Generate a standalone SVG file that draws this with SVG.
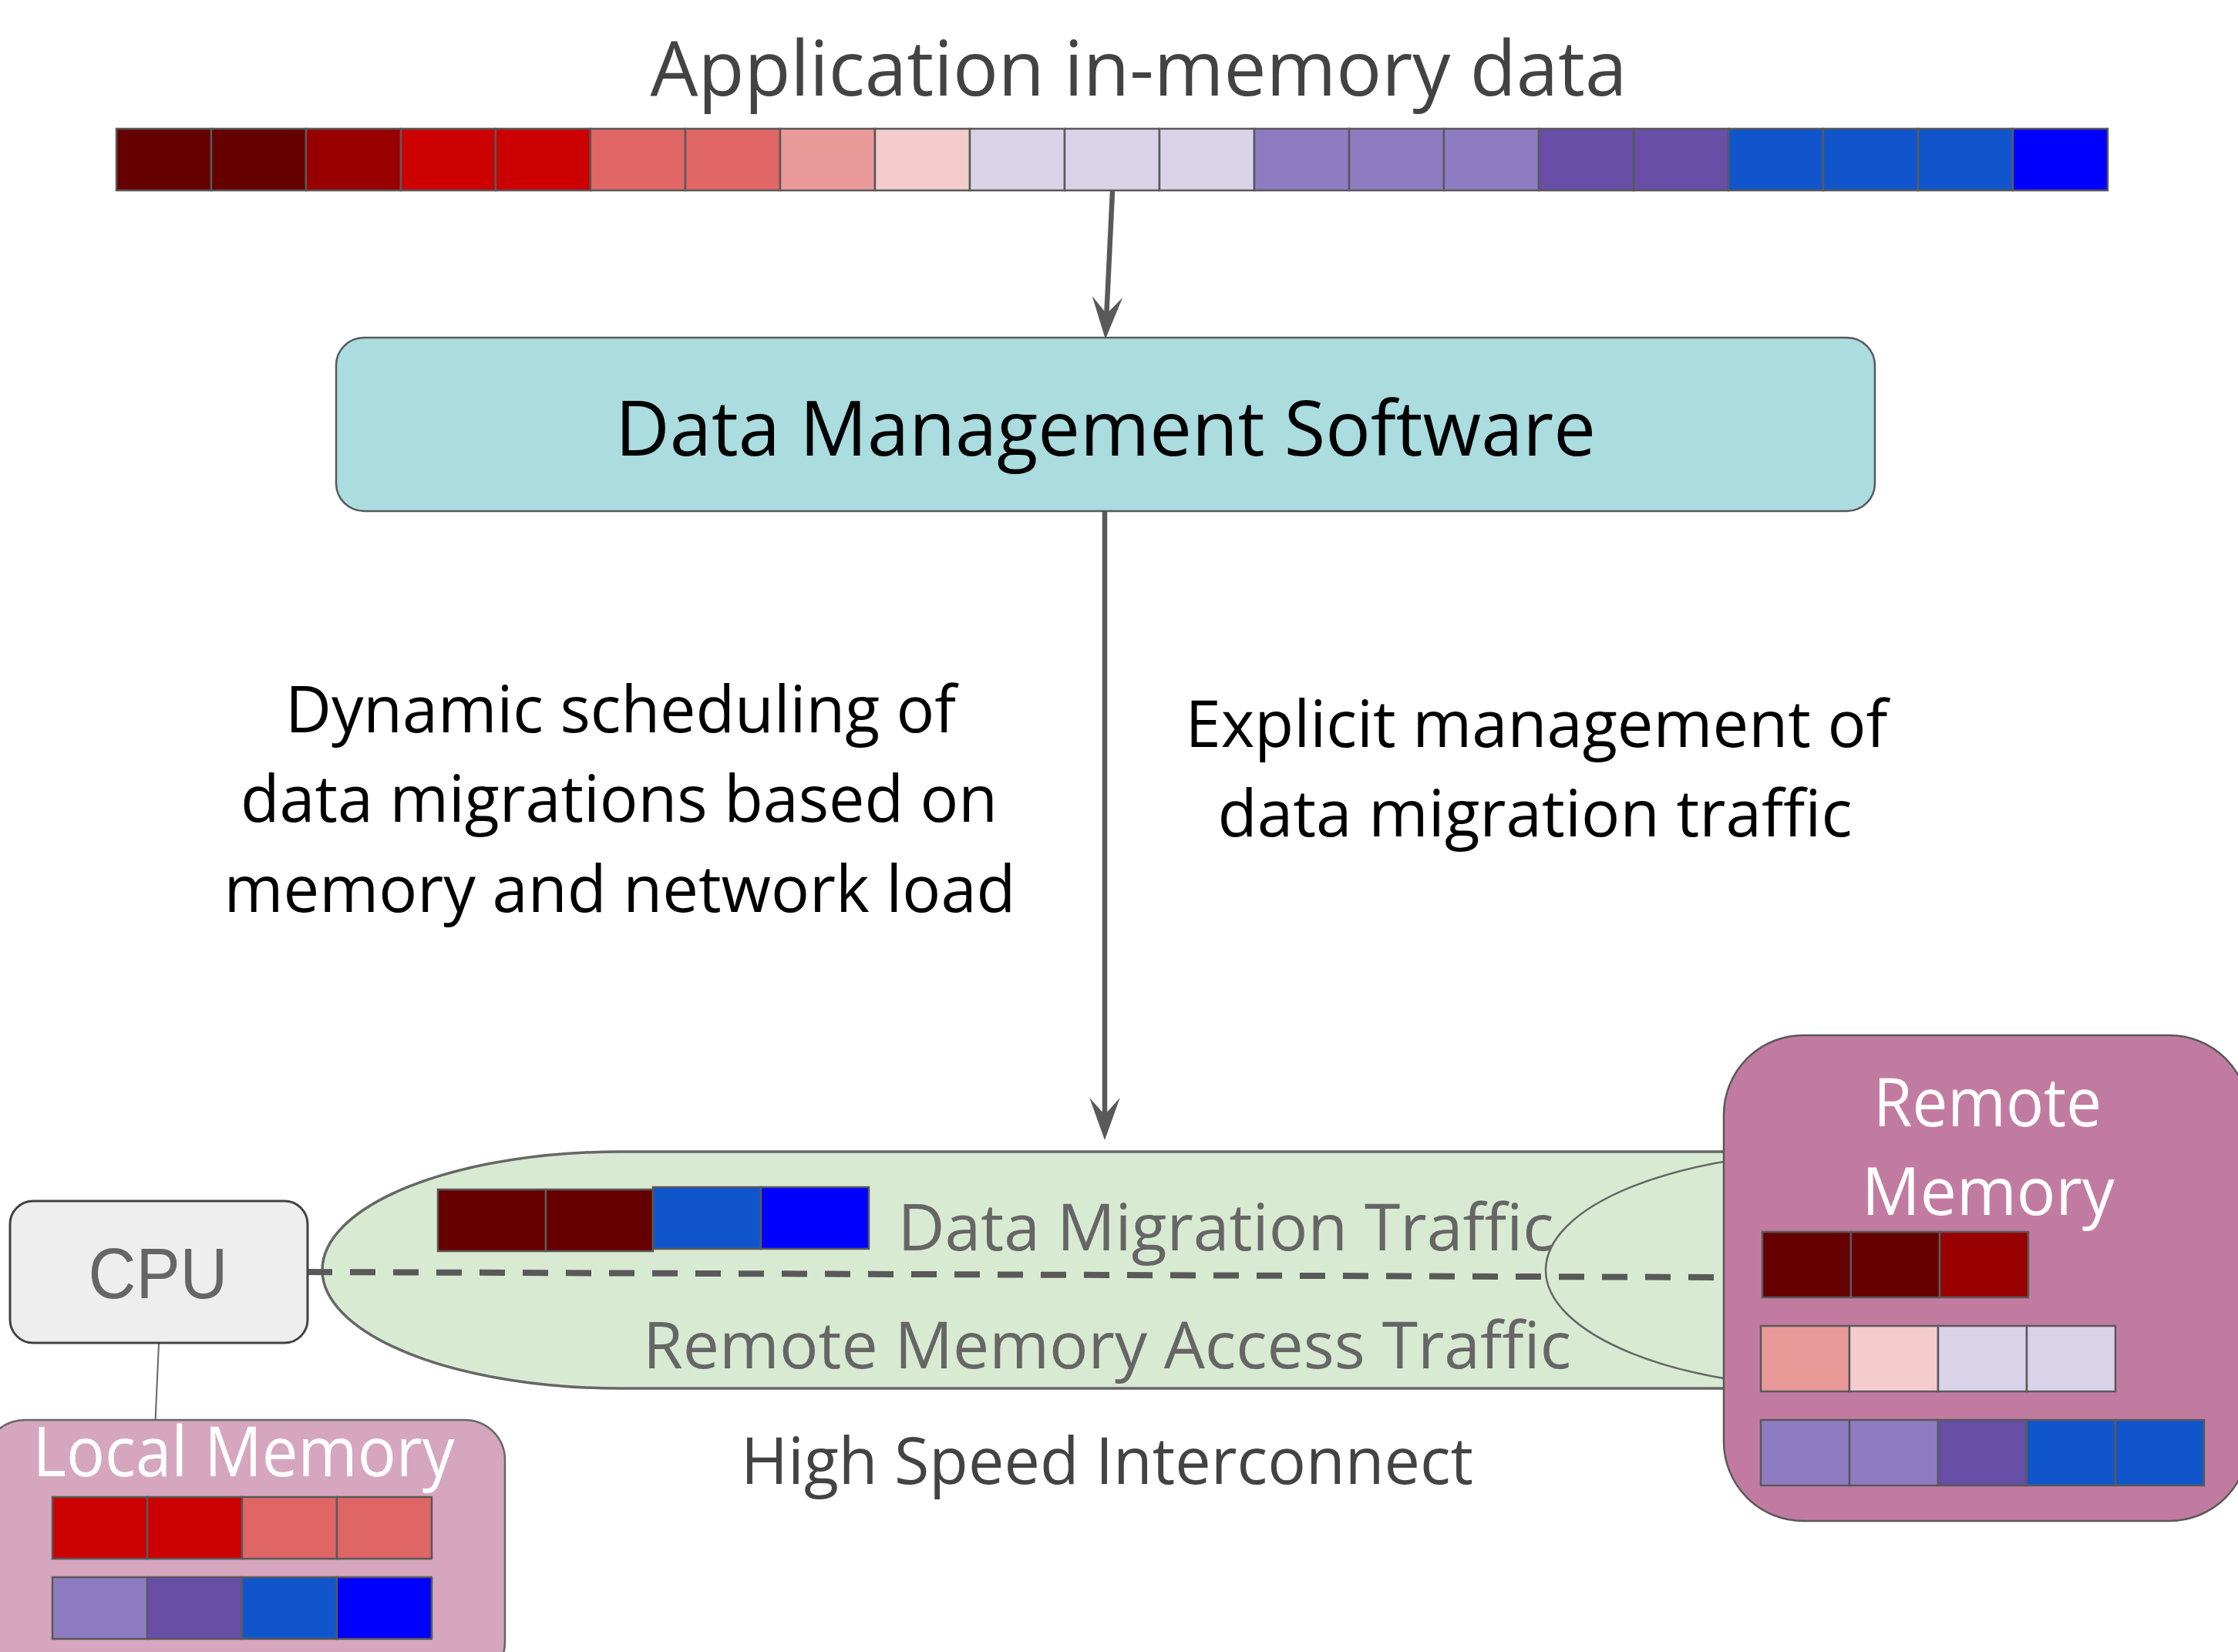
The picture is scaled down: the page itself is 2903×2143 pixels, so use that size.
<svg xmlns="http://www.w3.org/2000/svg" width="2903" height="2143" viewBox="0 0 2903 2143">
<style>
  text { font-family: "Open Sans", "Noto Sans", "Liberation Sans", sans-serif; text-anchor: middle; }
  .cell { stroke: #595959; stroke-width: 2.5; }
  .conn { stroke: #595959; stroke-width: 6.5; fill: none; }
  .dark { fill: #660000; } .d2 { fill: #990000; } .red { fill: #cc0000; } .sal { fill: #e06666; }
  .pink { fill: #ea9999; } .lp { fill: #f4cccc; } .lav { fill: #d9d2e9; } .pur { fill: #8e7cc3; }
  .dp { fill: #674ea7; } .blu { fill: #1155cc; } .bb { fill: #0000ff; }
</style>
<defs>
  <marker id="arr" markerUnits="userSpaceOnUse" markerWidth="60" markerHeight="44" viewBox="0 0 50 40" refX="20" refY="20" orient="auto">
    <path d="M50,20 L0,2 L20,20 L0,38 Z" fill="#595959"/>
  </marker>
</defs>
<rect width="2903" height="2143" fill="#ffffff"/>

<g id="app-data">
  <text x="1477" y="124" font-size="99" fill="#434343" textLength="1267" lengthAdjust="spacingAndGlyphs">Application in-memory data</text>
  <rect class="cell dark" x="151" y="167" width="123" height="80"/>
  <rect class="cell dark" x="274" y="167" width="123" height="80"/>
  <rect class="cell d2" x="397" y="167" width="123" height="80"/>
  <rect class="cell red" x="520" y="167" width="123" height="80"/>
  <rect class="cell red" x="643" y="167" width="123" height="80"/>
  <rect class="cell sal" x="766" y="167" width="123" height="80"/>
  <rect class="cell sal" x="889" y="167" width="123" height="80"/>
  <rect class="cell pink" x="1012" y="167" width="123" height="80"/>
  <rect class="cell lp" x="1135" y="167" width="123" height="80"/>
  <rect class="cell lav" x="1258" y="167" width="123" height="80"/>
  <rect class="cell lav" x="1381" y="167" width="123" height="80"/>
  <rect class="cell lav" x="1504" y="167" width="123" height="80"/>
  <rect class="cell pur" x="1627" y="167" width="123" height="80"/>
  <rect class="cell pur" x="1750" y="167" width="123" height="80"/>
  <rect class="cell pur" x="1873" y="167" width="123" height="80"/>
  <rect class="cell dp" x="1996" y="167" width="123" height="80"/>
  <rect class="cell dp" x="2119" y="167" width="123" height="80"/>
  <rect class="cell blu" x="2242" y="167" width="123" height="80"/>
  <rect class="cell blu" x="2365" y="167" width="123" height="80"/>
  <rect class="cell blu" x="2488" y="167" width="123" height="80"/>
  <rect class="cell bb" x="2611" y="167" width="123" height="80"/>
</g>

<g id="dms">
  <rect x="436" y="438" width="1996" height="225" rx="36" fill="#aadce0" stroke="#595959" stroke-width="2.5"/>
  <text x="1434" y="591" font-size="98" fill="#000000" textLength="1272" lengthAdjust="spacingAndGlyphs">Data Management Software</text>
</g>

<g id="label-left">
  <text x="805" y="950" font-size="85" fill="#000000" textLength="870" lengthAdjust="spacingAndGlyphs">Dynamic scheduling of</text>
  <text x="803" y="1066" font-size="85" fill="#000000" textLength="982" lengthAdjust="spacingAndGlyphs">data migrations based on</text>
  <text x="804" y="1183" font-size="85" fill="#000000" textLength="1027" lengthAdjust="spacingAndGlyphs">memory and network load</text>
</g>

<g id="label-right">
  <text x="1993" y="969" font-size="85" fill="#000000" textLength="911" lengthAdjust="spacingAndGlyphs">Explicit management of</text>
  <text x="1991" y="1085" font-size="85" fill="#000000" textLength="823" lengthAdjust="spacingAndGlyphs">data migration traffic</text>
</g>

<g id="interconnect">
  <path d="M804,1494 L2391,1494 A386,153.5 0 0 1 2391,1801 L804,1801 A386,153.5 0 0 1 804,1494 Z" fill="#d9ead3" stroke="#666666" stroke-width="3.5"/>
  <ellipse cx="2391" cy="1647.5" rx="386" ry="153.5" fill="#d9ead3" stroke="#666666" stroke-width="2.5"/>
  <rect class="cell dark" x="568" y="1543" width="140" height="80"/>
  <rect class="cell dark" x="708" y="1543" width="139" height="80"/>
  <rect class="cell blu" x="847" y="1540" width="140" height="80" stroke="#434343"/>
  <rect class="cell bb" x="987" y="1540" width="140" height="80"/>
  <text x="1590" y="1622" font-size="84" fill="#666666" textLength="851" lengthAdjust="spacingAndGlyphs">Data Migration Traffic</text>
  <text x="1436" y="1775" font-size="84" fill="#666666" textLength="1204" lengthAdjust="spacingAndGlyphs">Remote Memory Access Traffic</text>
  <text x="1436" y="1925" font-size="84" fill="#434343" textLength="950" lengthAdjust="spacingAndGlyphs">High Speed Interconnect</text>
</g>

<g id="connectors">
  <line class="conn" x1="1443" y1="248" x2="1435.4" y2="407" marker-end="url(#arr)"/>
  <line class="conn" x1="1433" y1="663" x2="1433" y2="1446" marker-end="url(#arr)"/>
  <line x1="398" y1="1650" x2="2236" y2="1657" stroke="#595959" stroke-width="8" stroke-dasharray="33 23"/>
  <line x1="206" y1="1743" x2="201" y2="1855" stroke="#666666" stroke-width="2"/>
</g>

<g id="cpu">
  <rect x="13" y="1558" width="386" height="184" rx="30" fill="#eeeeee" stroke="#434343" stroke-width="3"/>
  <text x="205" y="1684" font-size="92" fill="#666666" style="font-family:'Liberation Sans', Arial, sans-serif" textLength="181" lengthAdjust="spacingAndGlyphs">CPU</text>
</g>

<g id="local-memory">
  <rect x="-20" y="1842" width="675" height="340" rx="52" fill="#d5a6bd" stroke="#666666" stroke-width="2.5"/>
  <text x="316" y="1915" font-size="90" fill="#ffffff" textLength="547" lengthAdjust="spacingAndGlyphs">Local Memory</text>
  <rect class="cell red" x="68" y="1942" width="123" height="80"/>
  <rect class="cell red" x="191" y="1942" width="123" height="80"/>
  <rect class="cell sal" x="314" y="1942" width="123" height="80"/>
  <rect class="cell sal" x="437" y="1942" width="123" height="80"/>
  <rect class="cell pur" x="68" y="2046" width="123" height="80"/>
  <rect class="cell dp" x="191" y="2046" width="123" height="80"/>
  <rect class="cell blu" x="314" y="2046" width="123" height="80"/>
  <rect class="cell bb" x="437" y="2046" width="123" height="80"/>
</g>

<g id="remote-memory">
  <rect x="2236" y="1343" width="681" height="630" rx="103" fill="#c27ba0" stroke="#595959" stroke-width="2.5"/>
  <text x="2578" y="1461" font-size="87" fill="#ffffff" textLength="296" lengthAdjust="spacingAndGlyphs">Remote</text>
  <text x="2579" y="1576" font-size="86" fill="#ffffff" textLength="328" lengthAdjust="spacingAndGlyphs">Memory</text>
  <rect class="cell dark" x="2286" y="1598" width="115" height="85"/>
  <rect class="cell dark" x="2401" y="1598" width="115" height="85"/>
  <rect class="cell d2" x="2516" y="1598" width="115" height="85"/>
  <rect class="cell pink" x="2284" y="1720" width="115" height="85"/>
  <rect class="cell lp" x="2399" y="1720" width="115" height="85"/>
  <rect class="cell lav" x="2514" y="1720" width="115" height="85"/>
  <rect class="cell lav" x="2629" y="1720" width="115" height="85"/>
  <rect class="cell pur" x="2284" y="1842" width="115" height="85"/>
  <rect class="cell pur" x="2399" y="1842" width="115" height="85"/>
  <rect class="cell dp" x="2514" y="1842" width="115" height="85"/>
  <rect class="cell blu" x="2629" y="1842" width="115" height="85"/>
  <rect class="cell blu" x="2744" y="1842" width="115" height="85"/>
</g>
</svg>
